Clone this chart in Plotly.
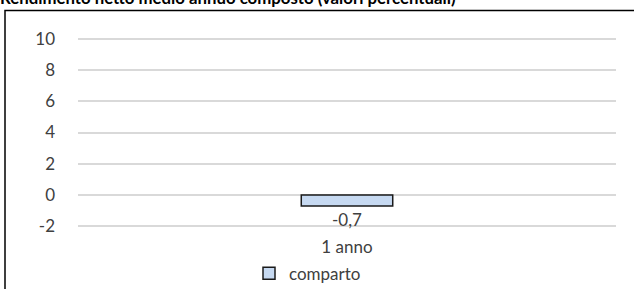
import plotly.graph_objects as go

categories = ["1 anno"]
comparto = [-0.7]
series_name = "comparto"
title_text = "Rendimento netto medio annuo composto (valori percentuali)"
tick_vals = [-2, 0, 2, 4, 6, 8, 10]
tick_text = ["-2", "0", "2", "4", "6", "8", "10"]

W, H = 634, 289
y_top_px, y_bot_px = 39, 226
pad = 0.1
ppu = (y_bot_px - y_top_px) / 12.0
T = y_top_px - pad * ppu
B = H - (y_bot_px + pad * ppu)
L, R = 78, 18
ph = H - T - B
pw = W - L - R

def py(pix):
    return (H - B - pix) / ph

def px(pix):
    return (pix - L) / pw

fig = go.Figure()
fig.add_trace(go.Bar(
    x=categories, y=comparto, name=series_name,
    marker=dict(color="#C6D9F1", line=dict(color="#1a1a1a", width=1.5)),
    width=0.17,
    texttemplate="%{y:.1f}", textposition="outside",
    textfont=dict(size=17, color="#404040", family="Lato"),
    cliponaxis=False,
))

fig.update_layout(
    width=W, height=H,
    margin=dict(l=L, r=R, t=T, b=B, autoexpand=False),
    paper_bgcolor="white", plot_bgcolor="white",
    separators=",.",
    font=dict(family="Lato", size=17, color="#404040"),
    showlegend=True,
    legend=dict(orientation="h", x=px(249), xanchor="left", y=py(273), yanchor="middle",
                font=dict(size=17, color="#404040"), itemwidth=30, tracegroupgap=0,
                bgcolor="rgba(0,0,0,0)"),
    yaxis=dict(range=[-2 - pad, 10 + pad], tickvals=tick_vals, ticktext=tick_text,
               showgrid=True, gridcolor="#d9d9d9", gridwidth=1.5,
               zeroline=False, showline=False, ticks="", ticklabelstandoff=22,
               tickfont=dict(size=17, color="#404040")),
    xaxis=dict(showgrid=False, showline=False, ticks="", ticklabelstandoff=7,
               tickfont=dict(size=17, color="#404040")),
)

fig.add_shape(type="rect", xref="paper", yref="paper",
              x0=px(5), x1=px(W + 60), y0=py(H + 60), y1=py(11),
              line=dict(color="black", width=1.5), fillcolor="rgba(0,0,0,0)", layer="below")

fig.add_annotation(text=title_text, xref="paper", yref="paper",
                   x=px(-2), xanchor="left", y=py(11), yanchor="bottom",
                   showarrow=False, font=dict(family="Lato", size=16.8, color="black", weight="bold"))

fig.write_html("out.html", config={"displayModeBar": False},
               post_script="document.body.style.margin='0';document.body.style.overflow='hidden';")
